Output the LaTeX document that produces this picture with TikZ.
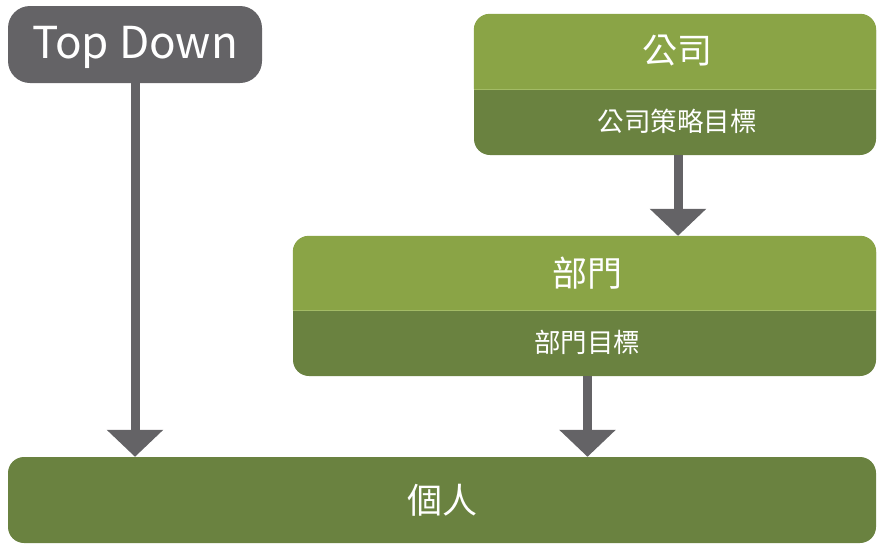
\documentclass[tikz,border=0pt]{standalone}
\usepackage{fontspec}
\setmainfont{Noto Sans CJK TC}
\usetikzlibrary{arrows.meta,positioning}
\definecolor{topgray}{HTML}{646366}
\definecolor{leafgreen}{HTML}{8AA446}
\definecolor{mossgreen}{HTML}{6A8240}
\definecolor{seamgreen}{HTML}{A3BB66}
\tikzset{
    panel/.style={fill=mossgreen, rounded corners=16pt, inner sep=0pt},
    headtext/.style={text=white, font=\fontsize{35}{39}\selectfont},
    subtext/.style={text=white, font=\fontsize{26.5}{30}\selectfont},
    flow/.style={topgray, line width=9pt, -{Triangle[width=55pt,length=27pt]}}
}
\begin{document}
\begin{tikzpicture}[x=1pt,y=-1pt]
            \useasboundingbox (0,0) rectangle (877,544);

            \node[fill=topgray, rounded corners=22pt, minimum width=254pt, minimum height=77pt,
                  text depth=4pt, text=white, font=\fontsize{44}{48}\selectfont] (topdown) at (135,44.5) {Top Down};

            \node[panel, minimum width=402pt, minimum height=141pt] (company) at (675,84.5) {};
            \fill[leafgreen] (company.west |- 0,89) [rounded corners=16pt] -- (company.north west)
                -- (company.north east) [sharp corners] -- (company.east |- 0,89) -- cycle;
            \draw[seamgreen, line width=1pt] (company.west |- 0,89) -- (company.east |- 0,89);
            \node[headtext] (company-head) at (677,51) {公司};
            \node[subtext] (company-goal) at (677,121) {公司策略目標};

            \node[panel, minimum width=583pt, minimum height=140pt] (dept) at (584.5,306) {};
            \fill[leafgreen] (dept.west |- 0,310) [rounded corners=16pt] -- (dept.north west)
                -- (dept.north east) [sharp corners] -- (dept.east |- 0,310) -- cycle;
            \draw[seamgreen, line width=1pt] (dept.west |- 0,310) -- (dept.east |- 0,310);
            \node[headtext] (dept-head) at (587,273) {部門};
            \node[subtext] (dept-goal) at (587,342) {部門目標};

            \node[panel, minimum width=868pt, minimum height=86pt, text=white,
                  font=\fontsize{35}{39}\selectfont] (person) at (442,500) {個人};

            \draw[flow] (topdown.south) -- (topdown.south |- person.north);
            \draw[flow] ([xshift=3pt]company.south) -- ([xshift=3pt]company.south |- dept.north);
            \draw[flow] ([xshift=3pt]dept.south) -- ([xshift=3pt]dept.south |- person.north);
\end{tikzpicture}
\end{document}
